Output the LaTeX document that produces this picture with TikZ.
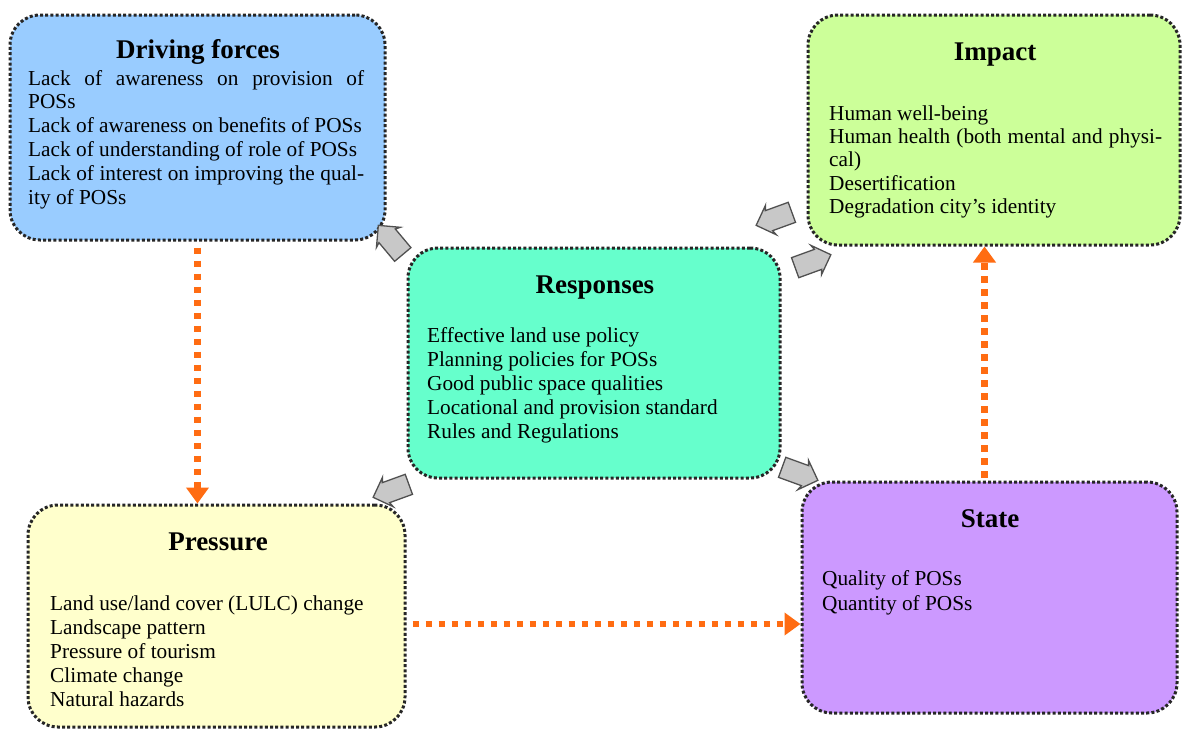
\documentclass[tikz,border=0pt]{standalone}
\usepackage{fontspec}
\setmainfont{Liberation Serif}
\usetikzlibrary{arrows.meta,shapes.arrows,calc}
\definecolor{dfblue}{HTML}{99CCFF}
\definecolor{imgreen}{HTML}{CCFF99}
\definecolor{resaqua}{HTML}{66FFCC}
\definecolor{pryellow}{HTML}{FFFFCC}
\definecolor{stpurple}{HTML}{CC99FF}
\definecolor{orangearrow}{RGB}{255,108,18}
\definecolor{arrowgray}{HTML}{C8C8C8}
\definecolor{arrowedge}{HTML}{505050}
\tikzset{
  box/.style={draw=black!85, line width=3pt, dash pattern=on 3pt off 2.2pt,
    rounded corners=30pt, inner sep=0pt},
  ttl/.style={font=\fontsize{27}{30}\selectfont\bfseries, anchor=base, inner sep=0pt},
  txt/.style={font=\fontsize{21.3}{24}\selectfont, anchor=base west, inner sep=0pt},
  flow/.style={draw=orangearrow, line width=6.5pt, dash pattern=on 6.5pt off 6.5pt,
    -{Triangle[width=22pt,length=16pt]}},
  blockarrow/.style={single arrow, draw=arrowedge, fill=arrowgray, line width=1.3pt,
    minimum height=38pt, inner sep=10pt, single arrow head extend=5pt,
    single arrow head indent=2pt},
}
\begin{document}
\begin{tikzpicture}[x=1pt,y=-1pt]
\useasboundingbox (0,0) rectangle (1183,732);
% boxes
\node[box, fill=dfblue, minimum width=375pt, minimum height=225pt] (df) at (197.5,127.5) {};
\node[box, fill=imgreen, minimum width=372pt, minimum height=230pt] (im) at (994,130) {};
\node[box, fill=resaqua, minimum width=372pt, minimum height=230pt] (re) at (594,363) {};
\node[box, fill=pryellow, minimum width=377pt, minimum height=222pt] (pr) at (216.5,616) {};
\node[box, fill=stpurple, minimum width=375pt, minimum height=231pt] (st) at (989.5,597.5) {};
% titles
\node[ttl] (dft) at (198,58) {Driving forces};
\node[ttl] (imt) at (995,60) {Impact};
\node[ttl] (ret) at (595,293) {Responses};
\node[ttl] (prt) at (218,550) {Pressure};
\node[ttl] (stt) at (990,527) {State};
% Driving forces text
\node[txt] (df1) at (28,85) {\makebox[336pt][s]{Lack of awareness on provision of}};
\node[txt] (df2) at (28,108.8) {POSs};
\node[txt] (df3) at (28,132.6) {Lack of awareness on benefits of POSs};
\node[txt] (df4) at (28,156.4) {Lack of understanding of role of POSs};
\node[txt] (df5) at (28,180.2) {\makebox[336pt][s]{Lack of interest on improving the qual-}};
\node[txt] (df6) at (28,204) {ity of POSs};
% Impact text
\node[txt] (im1) at (829,120) {Human well-being};
\node[txt] (im2) at (829,143.4) {\makebox[333pt][s]{Human health (both mental and physi-}};
\node[txt] (im3) at (829,166.8) {cal)};
\node[txt] (im4) at (829,190.2) {Desertification};
\node[txt] (im5) at (829,213.6) {Degradation city’s identity};
% Responses text
\node[txt] (re1) at (427,342) {Effective land use policy};
\node[txt] (re2) at (427,366) {Planning policies for POSs};
\node[txt] (re3) at (427,390) {Good public space qualities};
\node[txt] (re4) at (427,414) {Locational and provision standard};
\node[txt] (re5) at (427,438) {Rules and Regulations};
% Pressure text
\node[txt] (pr1) at (50,610) {Land use/land cover (LULC) change};
\node[txt] (pr2) at (50,634) {Landscape pattern};
\node[txt] (pr3) at (50,658) {Pressure of tourism};
\node[txt] (pr4) at (50,682) {Climate change};
\node[txt] (pr5) at (50,706) {Natural hazards};
% State text
\node[txt] (st1) at (822,585) {Quality of POSs};
\node[txt] (st2) at (822,610) {Quantity of POSs};
% orange flows
\coordinate (ylevel) at (0,624);
\draw[flow] ($(df.south)+(0,6)$) -- (df.south |- pr.north);
\draw[flow] ($(pr.east |- ylevel)+(6,0)$) -- (st.west |- ylevel);
\draw[flow] ($(st.north)+(-5,-3)$) -- ($(st.north |- im.south)+(-5,0)$);
% gray block arrows
\node[blockarrow, rotate=130] (a1) at (394,244) {};
\node[blockarrow, rotate=200] (a2) at (779,217) {};
\node[blockarrow, rotate=20] (a3) at (808,263) {};
\node[blockarrow, rotate=200] (a4) at (396,489) {};
\node[blockarrow, rotate=-20] (a5) at (795,472) {};
\end{tikzpicture}
\end{document}
